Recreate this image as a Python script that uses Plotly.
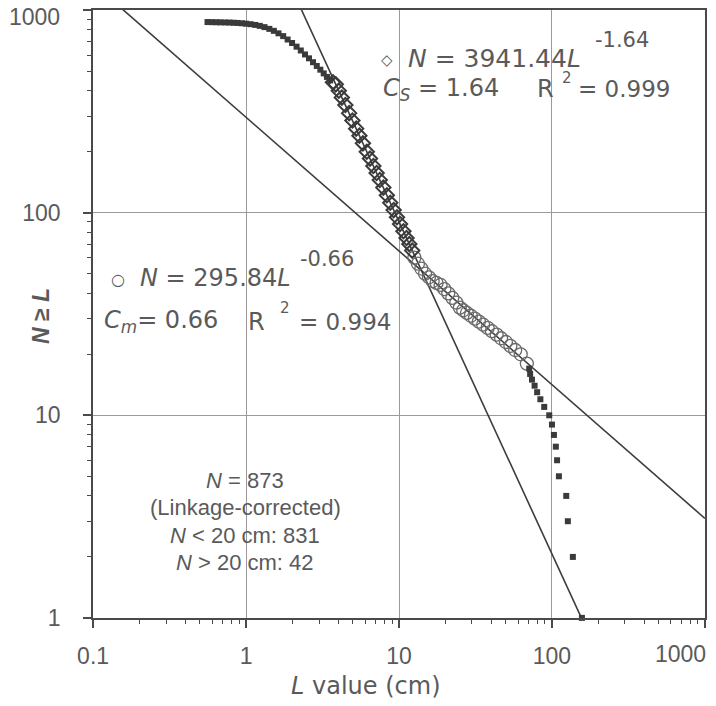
import plotly.graph_objects as go

# ---------------- data ----------------
# filled squares, upper part of the distribution (L in cm, N >= L)
sq_top_L = [0.56, 0.60, 0.64, 0.68, 0.73, 0.78, 0.83, 0.88, 0.94, 1.00,
            1.07, 1.15, 1.23, 1.32, 1.42, 1.52, 1.63, 1.75, 1.87, 2.00,
            2.14, 2.28, 2.43, 2.58, 2.74, 2.90, 3.06, 3.22, 3.38, 3.55]
sq_top_N = [873, 872, 871, 870, 869, 868, 866, 864, 861, 857,
            852, 845, 836, 824, 808, 790, 768, 744, 716, 688,
            660, 632, 604, 578, 553, 530, 508, 487, 468, 450]

# open diamonds, steep segment (small-size range)
dia_L = [3.70, 3.86, 4.04, 4.23, 4.46, 4.72, 4.96, 5.25, 5.51, 5.81,
         6.16, 6.46, 6.80, 7.14, 7.49, 7.90, 8.33, 8.77, 9.23, 9.70,
         10.16, 10.69, 11.20, 11.68, 12.20]
dia_N = [440, 430, 400, 370, 340, 310, 285, 260, 240, 220,
         200, 185, 170, 157, 145, 133, 122, 112, 103, 95,
         88, 81, 75, 70, 65]

# open circles, shallow segment (medium-size range)
cir_L = [12.6, 13.3, 14.0, 14.8, 15.7, 16.6, 17.6, 18.7, 19.8, 21.0,
         22.3, 23.7, 25.0, 26.3, 27.8, 29.5, 31.3, 33.3, 35.5, 38.0,
         40.5, 43.5, 46.5, 50.0, 53.5, 57.5, 62.5, 68.5]
cir_N = [60, 56, 53, 50, 48, 46, 45, 44, 42, 40,
         38, 36, 34, 33, 32, 31, 30, 29, 28, 27,
         26, 25, 24, 23, 22, 21, 20, 18]

# filled squares, tail of the distribution
sq_tail_L = [71, 72, 74, 77, 80, 84, 89, 96, 100, 103, 106, 108, 111,
             124, 127, 137, 157]
sq_tail_N = [17, 16, 15, 14, 13, 12, 11, 10, 9, 8, 7, 6, 5,
             4, 3, 2, 1]

# power-law fits N = a * L^(-c)
fit_small_a, fit_small_c = 3941.44, 1.64
fit_medium_a, fit_medium_c = 295.84, 0.66
fit_L = [0.1, 1000]

x_tickvals = [0.1, 1, 10, 100, 1000]
x_ticktext = ["0.1", "1", "10", "100", "1000"]
y_tickvals = [1, 10, 100, 1000]
y_ticktext = ["1", "10", "100", "1000"]

# ---------------- figure ----------------
FONT = "Liberation Sans, Arial, sans-serif"
WIDE = "DejaVu Sans, sans-serif"
TXT = "#5a5a5a"
LINE = "#3c3c3c"

fig = go.Figure()

fig.add_trace(go.Scatter(
    x=fit_L, y=[fit_small_a * v ** (-fit_small_c) for v in fit_L],
    mode="lines", line=dict(color=LINE, width=1.6), hoverinfo="skip"))
fig.add_trace(go.Scatter(
    x=fit_L, y=[fit_medium_a * v ** (-fit_medium_c) for v in fit_L],
    mode="lines", line=dict(color=LINE, width=1.6), hoverinfo="skip"))

fig.add_trace(go.Scatter(
    x=cir_L, y=cir_N, mode="markers",
    marker=dict(symbol="circle-open", size=13, color="#6a6a6a",
                line=dict(width=1.3, color="#6a6a6a"))))
fig.add_trace(go.Scatter(
    x=dia_L, y=dia_N, mode="markers",
    marker=dict(symbol="diamond-open", size=11, color="#3a3a3a",
                line=dict(width=2, color="#3a3a3a"))))
fig.add_trace(go.Scatter(
    x=sq_top_L, y=sq_top_N, mode="markers", cliponaxis=False,
    marker=dict(symbol="square", size=6, color="#3a3a3a")))
fig.add_trace(go.Scatter(
    x=sq_tail_L, y=sq_tail_N, mode="markers", cliponaxis=False,
    marker=dict(symbol="square", size=6, color="#3a3a3a")))

minor_vals_x = [m * 10 ** k for k in range(-1, 3) for m in range(2, 10)]
minor_vals_y = [m * 10 ** k for k in range(0, 3) for m in range(2, 10)]

axis_common = dict(
    type="log", showline=True, linecolor="#4a4a4a", linewidth=1.5,
    mirror=True, showgrid=True, gridcolor="#9a9a9a", gridwidth=1,
    ticks="outside", ticklen=8, tickwidth=1.5, tickcolor="#4a4a4a",
    tickfont=dict(family=FONT, size=23, color=TXT), zeroline=False,
    automargin=False, ticklabeloverflow="allow",
)

# the last label of each axis does not fit centred on its tick (it would
# leave the page), so it is written as a slightly shifted annotation below
x_ticktext_axis = x_ticktext[:-1] + [""]
y_ticktext_axis = y_ticktext[:-1] + [""]

fig.update_xaxes(
    range=[-1.0005, 3.0005], tickmode="array", tickvals=x_tickvals,
    ticktext=x_ticktext_axis, ticklabelstandoff=9,
    minor=dict(tickmode="array", tickvals=minor_vals_x, ticks="outside",
               ticklen=4, tickwidth=1.2, tickcolor="#4a4a4a", showgrid=False),
    **axis_common)
fig.update_yaxes(
    range=[-0.0005, 3.0005], tickmode="array", tickvals=y_tickvals,
    ticktext=y_ticktext_axis, ticklabelstandoff=18,
    minor=dict(tickmode="array", tickvals=minor_vals_y, ticks="outside",
               ticklen=4, tickwidth=1.2, tickcolor="#4a4a4a", showgrid=False),
    **axis_common)

W, H = 716, 706
L_, R_, T_, B_ = 93, 11, 10, 88
pw, ph = W - L_ - R_, H - T_ - B_


def px(xp):
    return (xp - L_) / pw


def py(yp):
    return (H - B_ - yp) / ph


ann = []


def txt(s, xp, yp, size=24, xanchor="left", angle=0, family=FONT):
    ann.append(dict(text=s, x=px(xp), y=py(yp), xref="paper", yref="paper",
                    xanchor=xanchor, yanchor="middle", showarrow=False,
                    textangle=angle,
                    font=dict(family=family, size=size, color=TXT)))


# labels for the last tick of each axis
txt(x_ticktext[-1], 680, 654, size=23, xanchor="center")
txt(y_ticktext[-1], 62, 17, size=23, xanchor="right")

# steep fit label
txt("\u25c7", 387, 60, size=15, xanchor="center", family=WIDE)
txt("<i>N</i> = 3941.44<i>L</i>", 494, 58, size=25, xanchor="center", family=WIDE)
txt("-1.64", 593, 40, size=21, family=WIDE)
txt("<i>C<sub>S</sub></i> = 1.64", 381, 89, size=24, family=WIDE)
txt("R", 535, 89, size=24, family=WIDE)
txt("2", 560, 78, size=15, family=WIDE)
txt("= 0.999", 576, 89, size=23, family=WIDE)

# shallow fit label
txt("\u25cb", 118, 279, size=16, xanchor="center", family=WIDE)
txt("<i>N</i> = 295.84<i>L</i>", 215, 278, size=24, xanchor="center", family=WIDE)
txt("-0.66", 298, 259, size=21, family=WIDE)
txt("<i>C<sub>m</sub></i>= 0.66", 102, 322, size=24, family=WIDE)
txt("R", 246, 322, size=24, family=WIDE)
txt("2", 278, 308, size=15, family=WIDE)
txt("= 0.994", 297, 322, size=23, family=WIDE)

# counts block
txt("<i>N</i> = 873", 245, 480, size=22, xanchor="center")
txt("(Linkage-corrected)", 245, 507, size=22, xanchor="center")
txt("<i>N</i> &lt; 20 cm: 831", 245, 535, size=22, xanchor="center")
txt("<i>N</i> &gt; 20 cm: 42", 245, 562, size=22, xanchor="center")

# axis titles
txt("<i>L</i> value (cm)", 366, 686, size=24, xanchor="center", family=WIDE)
txt("<b><i>N</i> \u2265 <i>L</i></b>", 41, 316, size=23, xanchor="center", angle=-90)

fig.update_layout(
    width=W, height=H, autosize=False,
    margin=dict(l=L_, r=R_, t=T_, b=B_, pad=0),
    paper_bgcolor="white", plot_bgcolor="white",
    showlegend=False, annotations=ann,
)

fig.write_html("out.html", config={"displayModeBar": False},
               post_script="document.body.style.margin='0';document.body.style.padding='0';")
